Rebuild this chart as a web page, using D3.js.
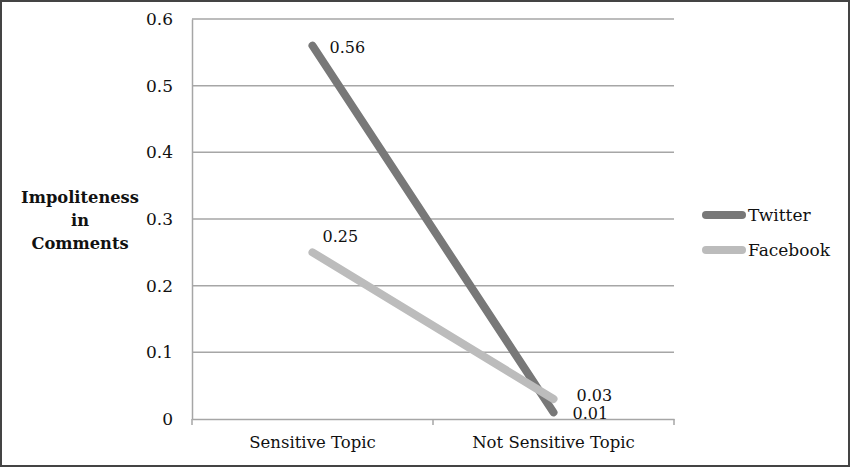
<!DOCTYPE html>
<html><head><meta charset="utf-8">
<script src="https://cdn.jsdelivr.net/npm/d3@7"></script>
<style>body{margin:0;background:#fff;} svg{display:block;}</style>
</head><body>
<svg id="c" width="850" height="467"></svg>
<script>
const categories = ["Sensitive Topic", "Not Sensitive Topic"];
const seriesNames = ["Twitter", "Facebook"];
const twitterValues = [0.56, 0.01];
const facebookValues = [0.25, 0.03];
const yTicks = [0, 0.1, 0.2, 0.3, 0.4, 0.5, 0.6];
const yTitle = ["Impoliteness", "in", "Comments"];
const colors = {Twitter: "#787878", Facebook: "#bcbcbc"};

(function(){
const font = "'DejaVu Serif', serif";
const svg = d3.select("#c");
svg.append("rect").attr("x",1).attr("y",1).attr("width",848).attr("height",465)
  .attr("fill","#fff").attr("stroke","#444").attr("stroke-width",2);

const pLeft = 192, pRight = 674, pTop = 19, pBottom = 419;
const x = d3.scaleBand().domain(categories).range([pLeft, pRight]);
const y = d3.scaleLinear().domain([0, 0.6]).range([pBottom, pTop]);

// gridlines
svg.append("g").selectAll("line").data(yTicks.filter(d=>d>0)).join("line")
  .attr("x1", pLeft).attr("x2", pRight).attr("y1", d=>y(d)).attr("y2", d=>y(d))
  .attr("stroke","#a6a6a6").attr("stroke-width",1.5);

// y axis
const ya = svg.append("g").attr("transform",`translate(${pLeft},0)`)
  .call(d3.axisLeft(y).tickValues(yTicks).tickSize(0).tickPadding(19).tickFormat(d=>d===0?"0":d3.format(".1f")(d)));
ya.select(".domain").attr("stroke","#a6a6a6").attr("stroke-width",1.5);
ya.selectAll("text").attr("font-family",font).attr("font-size",17).attr("fill","#111");

// x axis
const xa = svg.append("g").attr("transform",`translate(0,${pBottom})`)
  .call(d3.axisBottom(x).tickSize(0).tickPadding(17));
xa.select(".domain").attr("stroke","#a6a6a6").attr("stroke-width",1.5);
xa.selectAll("text").attr("font-family",font).attr("font-size",16.5).attr("fill","#111");
const bounds = [pLeft, ...categories.map(c=>x(c)+x.bandwidth())];
svg.append("g").selectAll("line").data(bounds).join("line")
  .attr("x1",d=>d).attr("x2",d=>d).attr("y1",pBottom).attr("y2",pBottom+6)
  .attr("stroke","#a6a6a6").attr("stroke-width",1.5);

// y title
const yt = svg.append("text").attr("font-family",font).attr("font-weight","bold")
  .attr("font-size",16.3).attr("fill","#111").attr("text-anchor","middle");
yTitle.forEach((t,i)=>yt.append("tspan").attr("x",80).attr("y",203+i*23).text(t));

// lines
const data = {Twitter: twitterValues, Facebook: facebookValues};
const line = d3.line().x((d,i)=>x(categories[i])+x.bandwidth()/2).y(d=>y(d));
seriesNames.forEach(s=>{
  svg.append("path").datum(data[s]).attr("d",line).attr("fill","none")
    .attr("stroke",colors[s]).attr("stroke-width",8).attr("stroke-linecap","round");
});

// data labels
const lbl = svg.append("g").attr("font-family",font).attr("font-size",16).attr("fill","#111");
const offs = {Twitter:[[17,7],[19,7]], Facebook:[[10,-10],[23,2]]};
seriesNames.forEach(s=>{
  data[s].forEach((v,i)=>{
    const cx = x(categories[i])+x.bandwidth()/2;
    const off = offs[s][i];
    lbl.append("text").attr("x",cx+off[0]).attr("y",y(v)+off[1]).text(v.toFixed(2));
  });
});

// legend
const lg = svg.append("g");
seriesNames.forEach((s,i)=>{
  const yy = 215 + i*35;
  lg.append("line").attr("x1",706).attr("x2",742).attr("y1",yy).attr("y2",yy)
    .attr("stroke",colors[s]).attr("stroke-width",8).attr("stroke-linecap","round");
  lg.append("text").attr("x",748).attr("y",yy+6).attr("font-family",font).attr("font-size",17)
    .attr("fill","#111").text(s);
});
})();
</script>
</body></html>
